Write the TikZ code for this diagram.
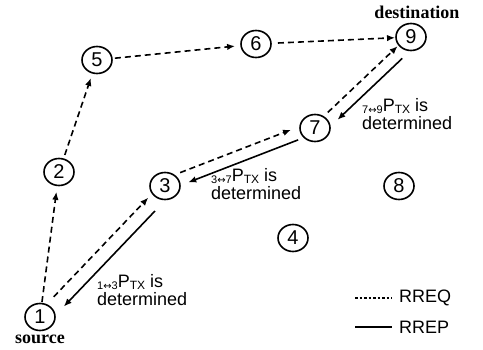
\documentclass[tikz,border=0pt]{standalone}
\usepackage{fontspec}
\setmainfont{Liberation Sans}
\newfontfamily\serifb{Liberation Serif}
\newfontfamily\dejavu{DejaVu Sans}
\usetikzlibrary{calc,arrows.meta,shapes.geometric}
\tikzset{
 nd/.style={draw, ellipse, line width=1.6pt, minimum width=30pt, minimum height=27pt, inner sep=0pt, font=\fontsize{20}{20}\selectfont},
 req/.style={line width=1.6pt, dash pattern=on 6pt off 4pt, -{Latex[length=8pt,width=6.5pt]}},
 rep/.style={line width=1.6pt, -{Latex[length=8pt,width=6.5pt]}},
 lbl/.style={anchor=base west, align=left, inner sep=0pt, font=\fontsize{18}{18}\selectfont},
 tag/.style={font=\serifb\bfseries\fontsize{18}{18}\selectfont, inner sep=0pt},
 legtxt/.style={anchor=west, inner sep=0pt, font=\fontsize{18}{18}\selectfont}
}
\newcommand\ptxlabel[2]{\raisebox{-2pt}{\fontsize{11}{11}\selectfont #1{\dejavu\fontsize{10}{10}\selectfont ↔}#2}P\raisebox{-2pt}{\fontsize{12}{12}\selectfont TX} is}
\begin{document}
\begin{tikzpicture}[x=1pt,y=-1pt]
\useasboundingbox (0,0) rectangle (483,350);
\node[nd] (n1) at (40,317) {1};
\node[nd] (n2) at (59,172) {2};
\node[nd] (n3) at (165,186) {3};
\node[nd] (n4) at (293,238) {4};
\node[nd] (n5) at (97,60) {5};
\node[nd] (n6) at (256,44) {6};
\node[nd] (n7) at (315,128) {7};
\node[nd] (n8) at (399,186) {8};
\node[nd] (n9) at (411,37) {9};
% RREQ single hops
\draw[req, shorten <=15pt, shorten >=20pt] (n1.center) -- (n2.center);
\draw[req, shorten <=18pt, shorten >=19pt] (n2.center) -- (n5.center);
\draw[req, shorten <=18pt, shorten >=21pt] (n5.center) -- (n6.center);
\draw[req, shorten <=22pt, shorten >=16pt] (n6.center) -- (n9.center);
% 1-3 pair
\draw[req, shorten <=24pt, shorten >=20pt] ($(n1.center)!4pt!90:(n3.center)$) -- ($(n3.center)!4pt!-90:(n1.center)$);
\draw[rep, shorten <=25pt, shorten >=24pt] ($(n3.center)!10pt!90:(n1.center)$) -- ($(n1.center)!10pt!-90:(n3.center)$);
% 3-7 pair
\draw[req, shorten <=19pt, shorten >=23pt] ($(n3.center)!7pt!90:(n7.center)$) -- ($(n7.center)!7pt!-90:(n3.center)$);
\draw[rep, shorten <=20pt, shorten >=23pt] ($(n7.center)!5pt!90:(n3.center)$) -- ($(n3.center)!5pt!-90:(n7.center)$);
% 7-9 pair
\draw[req, shorten <=20pt, shorten >=16pt] ($(n7.center)!2.5pt!90:(n9.center)$) -- ($(n9.center)!2.5pt!-90:(n7.center)$);
\draw[rep, shorten <=21pt, shorten >=22pt] ($(n9.center)!9.5pt!90:(n7.center)$) -- ($(n7.center)!9.5pt!-90:(n9.center)$);
% labels (anchor = baseline of last line)
\node[lbl] (l13) at (97,306) {\ptxlabel{1}{3}\\determined};
\node[lbl] (l37) at (211,200) {\ptxlabel{3}{7}\\determined};
\node[lbl] (l79) at (362,130) {\ptxlabel{7}{9}\\determined};
\node[tag] (src) at (40,339) {source};
\node[tag] (dst) at (417,12) {destination};
% legend
\coordinate (q1) at (355,298);
\coordinate (q2) at (392,298);
\draw[line width=2.2pt, dash pattern=on 2.5pt off 2pt] (q1) -- (q2);
\node[legtxt] (qt) at (399,298) {RREQ};
\coordinate (p1) at (355,327);
\coordinate (p2) at (392,327);
\draw[line width=2.6pt] (p1) -- (p2);
\node[legtxt] (pt) at (399,327) {RREP};
\end{tikzpicture}
\end{document}
